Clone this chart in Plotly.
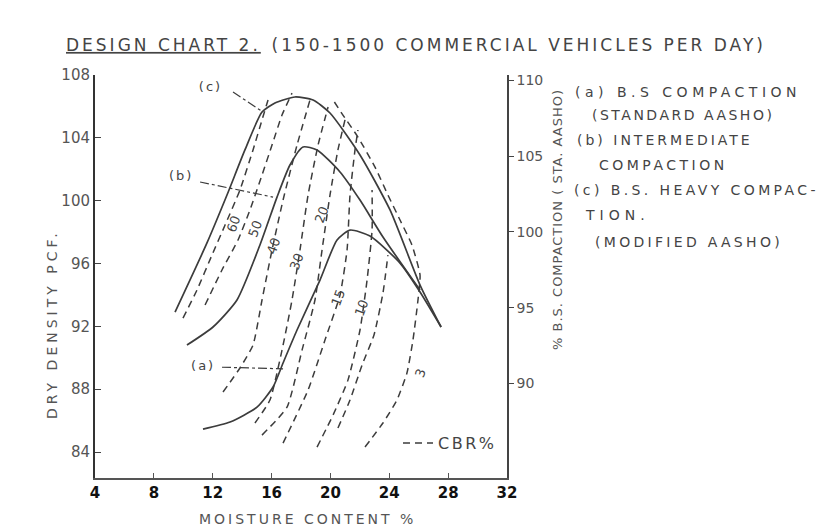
import plotly.graph_objects as go

# ---------------- data (moisture content %, dry density pcf) ----------------
moisture_ticks = [4, 8, 12, 16, 20, 24, 28, 32]
density_ticks = [84, 88, 92, 96, 100, 104, 108]
compaction_ticks = [90, 95, 100, 105, 110]

# compaction curves
a_moisture = [11.34, 13.18, 15.01, 16.10, 16.78, 17.73, 19.29, 20.45, 21.33, 22.69, 24.73, 26.09, 27.52]
a_density = [85.46, 85.91, 86.86, 88.14, 89.67, 91.77, 94.95, 97.50, 98.13, 97.75, 96.03, 94.19, 91.96]

b_moisture = [10.25, 12.02, 13.65, 15.21, 16.37, 17.25, 18.14, 19.09, 20.65, 22.01, 23.57, 26.09]
b_density = [90.81, 91.96, 93.68, 97.18, 100.23, 102.27, 103.42, 103.23, 101.83, 100.04, 97.69, 94.31]

c_moisture = [9.44, 11.61, 12.97, 14.19, 15.35, 16.23, 17.59, 18.82, 19.97, 22.01, 24.05, 26.09, 27.52]
c_density = [92.91, 97.31, 100.36, 103.23, 105.64, 106.22, 106.60, 106.41, 105.58, 102.91, 99.41, 94.63, 91.96]

# CBR contours
cbr60_moisture = [9.98, 10.93, 11.95, 12.84, 13.85, 14.74, 15.35, 15.76]
cbr60_density = [92.53, 94.31, 96.54, 98.45, 100.68, 103.23, 105.14, 106.41]

cbr50_moisture = [11.48, 12.63, 13.72, 14.53, 15.35, 16.03, 16.71, 17.39]
cbr50_density = [93.36, 95.59, 97.50, 99.41, 101.63, 103.54, 105.45, 106.85]

cbr40_moisture = [12.70, 13.85, 14.74, 15.35, 16.03, 16.78, 17.73, 18.61]
cbr40_density = [87.82, 89.35, 90.81, 93.68, 96.86, 100.04, 103.54, 106.41]

cbr30_moisture = [14.87, 15.89, 16.71, 17.39, 17.93, 18.48, 19.16, 19.84]
cbr30_density = [85.85, 87.31, 90.49, 93.68, 96.86, 100.36, 103.54, 105.96]

cbr20_moisture = [15.35, 17.05, 18.07, 18.95, 19.43, 19.97, 20.51, 20.99]
cbr20_density = [85.08, 86.86, 90.49, 93.68, 96.86, 100.36, 103.23, 105.14]

cbr15_moisture = [16.78, 18.48, 19.63, 20.65, 21.13, 21.33, 21.67, 21.87]
cbr15_density = [84.57, 87.95, 91.13, 93.99, 96.86, 100.36, 103.23, 104.50]

cbr10_moisture = [19.09, 20.18, 21.19, 22.01, 22.49, 22.83, 22.83]
cbr10_density = [84.32, 86.36, 88.58, 91.77, 94.95, 98.13, 100.68]

cbr5_moisture = [20.51, 21.33, 22.15, 22.96, 23.57, 23.91]
cbr5_density = [85.53, 87.31, 89.54, 91.45, 94.12, 96.54]

cbr3_moisture = [22.35, 23.57, 24.52, 25.20, 25.61, 25.95, 26.09, 25.54, 24.73, 23.91, 23.03, 21.87, 20.85, 20.18]
cbr3_density = [84.32, 85.85, 87.31, 89.03, 91.13, 93.68, 95.27, 97.18, 98.77, 100.36, 102.14, 104.05, 105.45, 106.41]

cbr_labels = ["60", "50", "40", "30", "20", "15", "10", "3"]
cbr_label_moisture = [13.38, 14.87, 16.10, 17.73, 19.43, 20.51, 22.08, 26.09]
cbr_label_density = [98.51, 98.26, 97.11, 96.10, 99.09, 93.87, 93.17, 89.03]

# curve labels and leaders
curve_labels = ["(a)", "(b)", "(c)"]
curve_label_moisture = [11.35, 9.85, 11.85]
curve_label_density = [89.45, 101.55, 107.17]
a_leader_moisture = [12.63, 16.78]
a_leader_density = [89.40, 89.30]
b_leader_moisture = [11.14, 16.10]
b_leader_density = [101.19, 100.23]
c_leader_moisture = [13.38, 15.42]
c_leader_density = [106.92, 105.64]

legend_lines = ["(a) B.S COMPACTION", "(STANDARD AASHO)", "(b) INTERMEDIATE", "COMPACTION",
                "(c) B.S. HEAVY COMPAC-", "TION.", "(MODIFIED AASHO)"]

INK = "#3c3c3c"
DASH = "7px,5px"


def spaced(t, ls):
    return f"<span style='letter-spacing:{ls}px'>{t}</span>"


fig = go.Figure()


def solid(x, y):
    fig.add_trace(go.Scatter(x=x, y=y, mode="lines", showlegend=False, hoverinfo="skip",
                             line=dict(color=INK, width=1.7, shape="spline", smoothing=0.6)))


def dashed(x, y, name=None, show=False):
    fig.add_trace(go.Scatter(x=x, y=y, mode="lines", name=name, showlegend=show, hoverinfo="skip",
                             line=dict(color=INK, width=1.5, dash=DASH, shape="spline", smoothing=0.5)))


for mx, dy in [(cbr60_moisture, cbr60_density), (cbr50_moisture, cbr50_density),
               (cbr40_moisture, cbr40_density), (cbr30_moisture, cbr30_density),
               (cbr20_moisture, cbr20_density), (cbr15_moisture, cbr15_density),
               (cbr10_moisture, cbr10_density), (cbr5_moisture, cbr5_density)]:
    dashed(mx, dy)
dashed(cbr3_moisture, cbr3_density, name=spaced("CBR%", 2.5), show=True)

solid(a_moisture, a_density)
solid(b_moisture, b_density)
solid(c_moisture, c_density)

for mx, dy in [(a_leader_moisture, a_leader_density), (b_leader_moisture, b_leader_density),
               (c_leader_moisture, c_leader_density)]:
    fig.add_trace(go.Scatter(x=mx, y=dy, mode="lines", showlegend=False, hoverinfo="skip",
                             line=dict(color=INK, width=1.2, dash="dashdot")))

fig.add_trace(go.Scatter(x=curve_label_moisture, y=curve_label_density, mode="text",
                         text=[spaced(t, 2) for t in curve_labels],
                         showlegend=False, hoverinfo="skip",
                         textfont=dict(family="DejaVu Sans", size=13, color="#444")))

# dummy trace for right axis
fig.add_trace(go.Scatter(x=[None], y=[None], yaxis="y2", showlegend=False, hoverinfo="skip"))

annos = []
# CBR contour labels, rotated along the lines
for t, mx, dy in zip(cbr_labels, cbr_label_moisture, cbr_label_density):
    annos.append(dict(text=t, x=mx, y=dy, xref="x", yref="y", showarrow=False, textangle=-70,
                      font=dict(family="DejaVu Sans", size=13, color="#444")))

# plot area on the page: x 95..507 px, y 75..478 px
ys = [92, 115, 140, 165, 190, 215, 242]
xs = [573, 590, 575, 597, 572, 583, 593]
spacing = [4.5, 2.5, 3.0, 3.5, 3.4, 5.0, 3.3]
for t, px, py, ls in zip(legend_lines, xs, ys, spacing):
    annos.append(dict(text=spaced(t, ls), xref="paper", yref="paper", x=(px - 95) / 412, y=(478 - py) / 403,
                      xanchor="left", yanchor="middle", showarrow=False,
                      font=dict(family="DejaVu Sans", size=14, color="#444")))
annos.append(dict(text=spaced("DRY DENSITY PCF.", 4), xref="paper", yref="paper", x=(52 - 95) / 412,
                  y=(478 - 324) / 403, textangle=-90, showarrow=False, xanchor="center", yanchor="middle",
                  font=dict(family="DejaVu Sans", size=14, color="#555")))
annos.append(dict(text=spaced("% B.S. COMPACTION ( STA. AASHO)", 1), xref="paper", yref="paper",
                  x=(558 - 95) / 412, y=(478 - 220) / 403, textangle=-90, showarrow=False,
                  xanchor="center", yanchor="middle",
                  font=dict(family="DejaVu Sans", size=13, color="#555")))
annos.append(dict(text=spaced("MOISTURE CONTENT %", 3), xref="paper", yref="paper", x=(307 - 95) / 412,
                  y=(478 - 519) / 403, showarrow=False, xanchor="center", yanchor="middle",
                  font=dict(family="DejaVu Sans", size=14, color="#555")))

fig.update_layout(
    width=816, height=524,
    margin=dict(l=87, r=317, t=67, b=54),
    paper_bgcolor="white", plot_bgcolor="white",
    title=dict(text="<u>" + spaced("DESIGN CHART 2.", 3) + "</u>  " +
                    spaced("(150-1500 COMMERCIAL VEHICLES PER DAY)", 3),
               x=(66 - 8) / 816, xanchor="left", y=1 - (45 - 8) / 524, yanchor="middle",
               font=dict(family="DejaVu Sans", size=17, color="#444")),
    xaxis=dict(range=[4, 32], tickvals=moisture_ticks, ticktext=[str(v) for v in moisture_ticks],
               showgrid=False, zeroline=False, showline=True, linecolor="#555", linewidth=1.5,
               ticks="inside", ticklen=5, tickcolor="#555",
               tickfont=dict(family="DejaVu Sans", size=15, color="#111", weight="bold")),
    yaxis=dict(range=[82.35, 108], tickvals=density_ticks, showgrid=False, zeroline=False,
               showline=True, linecolor="#333", linewidth=2, ticks="inside", ticklen=6, tickcolor="#444",
               tickfont=dict(family="DejaVu Sans", size=15, color="#555")),
    yaxis2=dict(range=[83.76, 110.36], tickvals=compaction_ticks, overlaying="y", side="right",
                showgrid=False, zeroline=False, showline=True, linecolor="#444", linewidth=1.5,
                ticks="outside", ticklen=5, tickcolor="#444",
                tickfont=dict(family="DejaVu Sans", size=14, color="#555")),
    legend=dict(x=(398 - 95) / 412, y=(478 - 443) / 403, xanchor="left", yanchor="middle",
                bgcolor="rgba(0,0,0,0)", font=dict(family="DejaVu Sans", size=16, color="#444")),
    annotations=annos,
)

fig.write_html("out.html")
